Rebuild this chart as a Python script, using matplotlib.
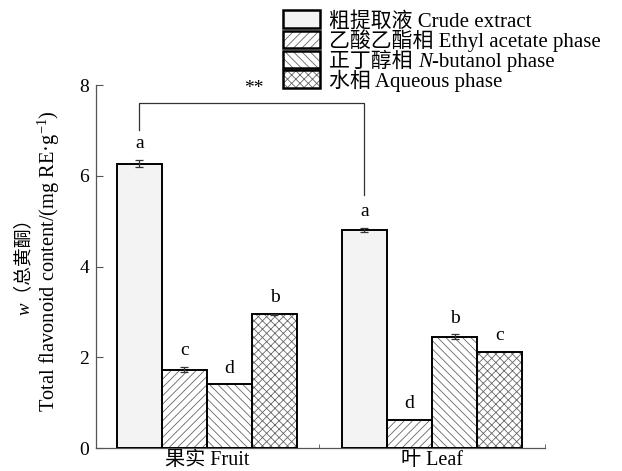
import matplotlib
matplotlib.use("Agg")
import matplotlib.pyplot as plt
import numpy as np
from matplotlib.patches import Rectangle

plt.rcParams['font.family'] = ['Liberation Serif', 'Noto Sans CJK SC', 'DejaVu Sans']
plt.rcParams['mathtext.fontset'] = 'custom'
plt.rcParams['mathtext.rm'] = 'Liberation Serif'
plt.rcParams['mathtext.it'] = 'Liberation Serif:italic'
plt.rcParams['hatch.linewidth'] = 0.6

# ---- data ----
groups = ['果实 Fruit', '叶 Leaf']
crude_vals = [6.27, 4.81]
ethyl_vals = [1.73, 0.62]
butanol_vals = [1.41, 2.46]
aqueous_vals = [2.95, 2.13]
crude_err = [0.08, 0.05]
ethyl_err = [0.06, 0.0]
butanol_err = [0.0, 0.05]
aqueous_err = [0.01, 0.0]
crude_letters = ['a', 'a']
ethyl_letters = ['c', 'd']
butanol_letters = ['d', 'b']
aqueous_letters = ['b', 'c']
values = [crude_vals, ethyl_vals, butanol_vals, aqueous_vals]
errors = [crude_err, ethyl_err, butanol_err, aqueous_err]
letters = [crude_letters, ethyl_letters, butanol_letters, aqueous_letters]
# legend labels as (text, italic) pieces
legend_labels = [
    [('粗提取液 Crude extract', False)],
    [('乙酸乙酯相 Ethyl acetate phase', False)],
    [('正丁醇相 ', False), ('N', True), ('-butanol phase', False)],
    [('水相 Aqueous phase', False)],
]
ylabel_line1 = 'w（总黄酮）'
ylabel_line2 = 'Total flavonoid content/(mg RE·g$^{-1}$)'

hatches = ['', '////', '\\\\\\\\', 'xxxx']
fills = ['#f3f3f3', 'white', 'white', 'white']
hatch_color = '#666666'

W, H = 622, 471
fig = plt.figure(figsize=(W / 100, H / 100), dpi=100)
ax = fig.add_axes([96 / W, 1 - 448.3 / H, (545 - 96) / W, (448.3 - 85) / H])

x = np.arange(len(groups))
w = 0.2
for i in range(4):
    xs = x + (i - 1.5) * w
    ax.bar(xs, values[i], w, color=fills[i], edgecolor=hatch_color,
           hatch=hatches[i], linewidth=0, zorder=2)
    ax.bar(xs, values[i], w, fill=False, edgecolor='black', linewidth=1.4, zorder=3)
    for j in range(len(groups)):
        if errors[i][j] > 0:
            ax.errorbar(xs[j], values[i][j], yerr=errors[i][j], fmt='none',
                        ecolor='#333333', elinewidth=0.9, capsize=3, capthick=0.9, zorder=4)
        ax.text(xs[j], values[i][j] + errors[i][j] + 0.17, letters[i][j],
                ha='center', va='bottom', fontsize=14)

# significance bracket between crude extracts
xl = x[0] - 1.5 * w
xr = x[1] - 1.5 * w
ytop = 7.61
ax.plot([xl, xl, xr, xr], [7.01, ytop, ytop, 5.58], color='#333333', lw=0.9,
        clip_on=False, zorder=4)
ax.text((xl + xr) / 2 + 0.01, ytop + 0.12, '**', ha='center', va='bottom', fontsize=14,
        clip_on=False)

ax.set_ylim(0, 8)
ax.set_xlim(-0.4933, 1.5022)
ax.set_yticks([0, 2, 4, 6, 8])
ax.set_xticks(x)
ax.set_xticklabels(groups, fontsize=14.5)
ax.set_xticks([0.5, 1.5], minor=True)
ax.tick_params(axis='x', which='major', length=0, pad=2)
ax.tick_params(axis='x', which='minor', direction='in', length=3, color='#555555')
ax.tick_params(axis='y', direction='in', length=5, labelsize=14, color='#555555', pad=5)
for s in ['top', 'right']:
    ax.spines[s].set_visible(False)
for s in ['left', 'bottom']:
    ax.spines[s].set_color('#555555')
    ax.spines[s].set_linewidth(0.9)

renderer = fig.canvas.get_renderer()


def place_h(x_px, base_px, pieces, size):
    cx = x_px
    for txt, it in pieces:
        kw = dict(fontsize=size)
        if it:
            kw['fontstyle'] = 'italic'
        t = fig.text(cx / W, 1 - base_px / H, txt, ha='left', va='baseline', **kw)
        cx += t.get_window_extent(renderer).width


# y label (two lines); italic style only affects the Latin "w"
fig.text(24 / W, 1 - 262 / H, ylabel_line1, rotation=90, ha='center', va='center',
         fontsize=13.5, fontstyle='italic')
fig.text(49 / W, 1 - 261 / H, ylabel_line2, rotation=90, ha='center', va='center',
         fontsize=14.7)

# legend (manual)
row_tops = [10, 30.5, 50.5, 70]
for i in range(4):
    top = row_tops[i]
    rect_h = Rectangle((283 / W, 1 - (top + 17.5) / H), 37 / W, 17.5 / H,
                       transform=fig.transFigure, facecolor=fills[i], edgecolor=hatch_color,
                       hatch=hatches[i], linewidth=0)
    rect_b = Rectangle((283 / W, 1 - (top + 17.5) / H), 37 / W, 17.5 / H,
                       transform=fig.transFigure, facecolor='none', edgecolor='black',
                       linewidth=1.8)
    fig.add_artist(rect_h)
    fig.add_artist(rect_b)
    place_h(329, top + 16.5, legend_labels[i], 15)

fig.savefig('out.png', dpi=100)
